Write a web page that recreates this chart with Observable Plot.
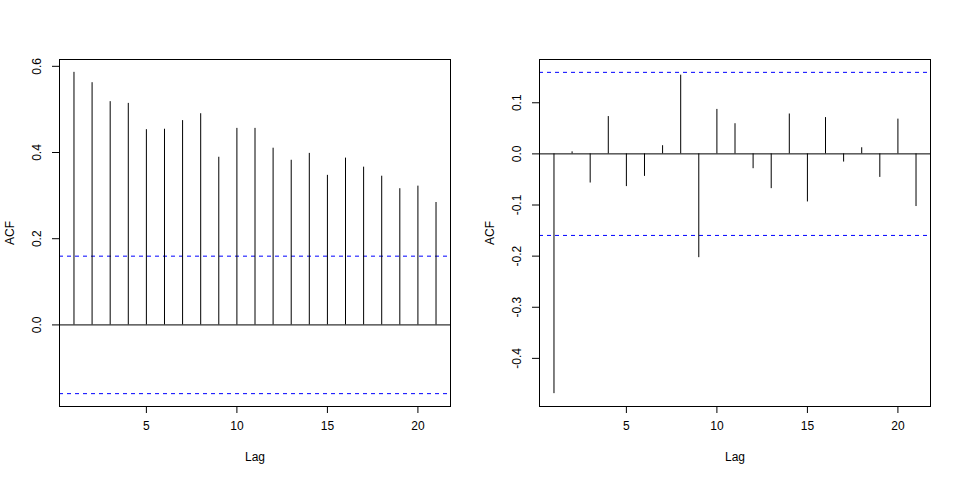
<!DOCTYPE html>
<html>
<head>
<meta charset="utf-8">
<script src="https://cdn.jsdelivr.net/npm/d3@7"></script>
<script src="https://cdn.jsdelivr.net/npm/@observablehq/plot@0.6"></script>
<style>
  html, body { margin: 0; padding: 0; background: #fff; }
  #row { display: flex; flex-direction: row; width: 960px; height: 480px; }
</style>
</head>
<body>
<div id="row"></div>
<script>
const lags = [1,2,3,4,5,6,7,8,9,10,11,12,13,14,15,16,17,18,19,20,21];
const acfLeft = [0.586,0.562,0.518,0.514,0.453,0.454,0.474,0.490,0.389,0.456,0.456,0.410,0.382,0.398,0.347,0.387,0.366,0.345,0.316,0.322,0.284];
const acfRight = [-0.469,0.004,-0.057,0.073,-0.064,-0.044,0.016,0.154,-0.203,0.087,0.059,-0.029,-0.068,0.078,-0.094,0.071,-0.016,0.012,-0.046,0.068,-0.103];
const ciBound = 0.1595;
const xTicks = [5,10,15,20];
const yTicksLeft = [0.0,0.2,0.4,0.6];
const yTicksRight = [-0.4,-0.3,-0.2,-0.1,0.0,0.1];
const xLabel = "Lag";
const yLabel = "ACF";

function rng(values) {
  const lo = Math.min(-ciBound, d3.min(values));
  const hi = Math.max(ciBound, d3.max(values));
  const pad = (hi - lo) * 0.04;
  return [lo - pad, hi + pad];
}

function acfPanel(values, yTicks) {
  const data = lags.map((lag, i) => ({lag, acf: values[i]}));
  const xr = [d3.min(lags) - (d3.max(lags) - d3.min(lags)) * 0.04, d3.max(lags) + (d3.max(lags) - d3.min(lags)) * 0.04];
  const fmt = d => d.toFixed(1);
  return Plot.plot({
    width: 480,
    height: 480,
    marginLeft: 59,
    marginRight: 30,
    marginTop: 59,
    marginBottom: 74,
    style: {fontFamily: "'Liberation Sans', Arial, sans-serif", fontSize: "12px", background: "#fff", color: "#000"},
    x: {domain: xr, axis: null},
    y: {domain: rng(values), axis: null},
    marks: [
      Plot.ruleY([ciBound, -ciBound], {stroke: "#0000ff", strokeDasharray: "4,4", strokeWidth: 1}),
      Plot.ruleY([0], {stroke: "#000", strokeWidth: 1}),
      Plot.ruleX(data, {x: "lag", y1: 0, y2: "acf", stroke: "#000", strokeWidth: 1}),
      Plot.frame({stroke: "#000", strokeWidth: 1}),
      Plot.axisX({ticks: xTicks, tickSize: 7, tickPadding: 8, label: null, fontSize: 12}),
      Plot.axisY({ticks: yTicks, tickSize: 7, tickFormat: () => "", label: null}),
      Plot.text(yTicks, {y: d => d, text: fmt, frameAnchor: "left", dx: -22, rotate: -90, textAnchor: "middle", lineAnchor: "middle", fontSize: 12}),
      Plot.text([xLabel], {frameAnchor: "bottom", dy: 51, textAnchor: "middle", lineAnchor: "middle", fontSize: 12}),
      Plot.text([yLabel], {frameAnchor: "left", dx: -49, rotate: -90, textAnchor: "middle", lineAnchor: "middle", fontSize: 12})
    ]
  });
}

const row = document.getElementById("row");
row.appendChild(acfPanel(acfLeft, yTicksLeft));
row.appendChild(acfPanel(acfRight, yTicksRight));
</script>
</body>
</html>
